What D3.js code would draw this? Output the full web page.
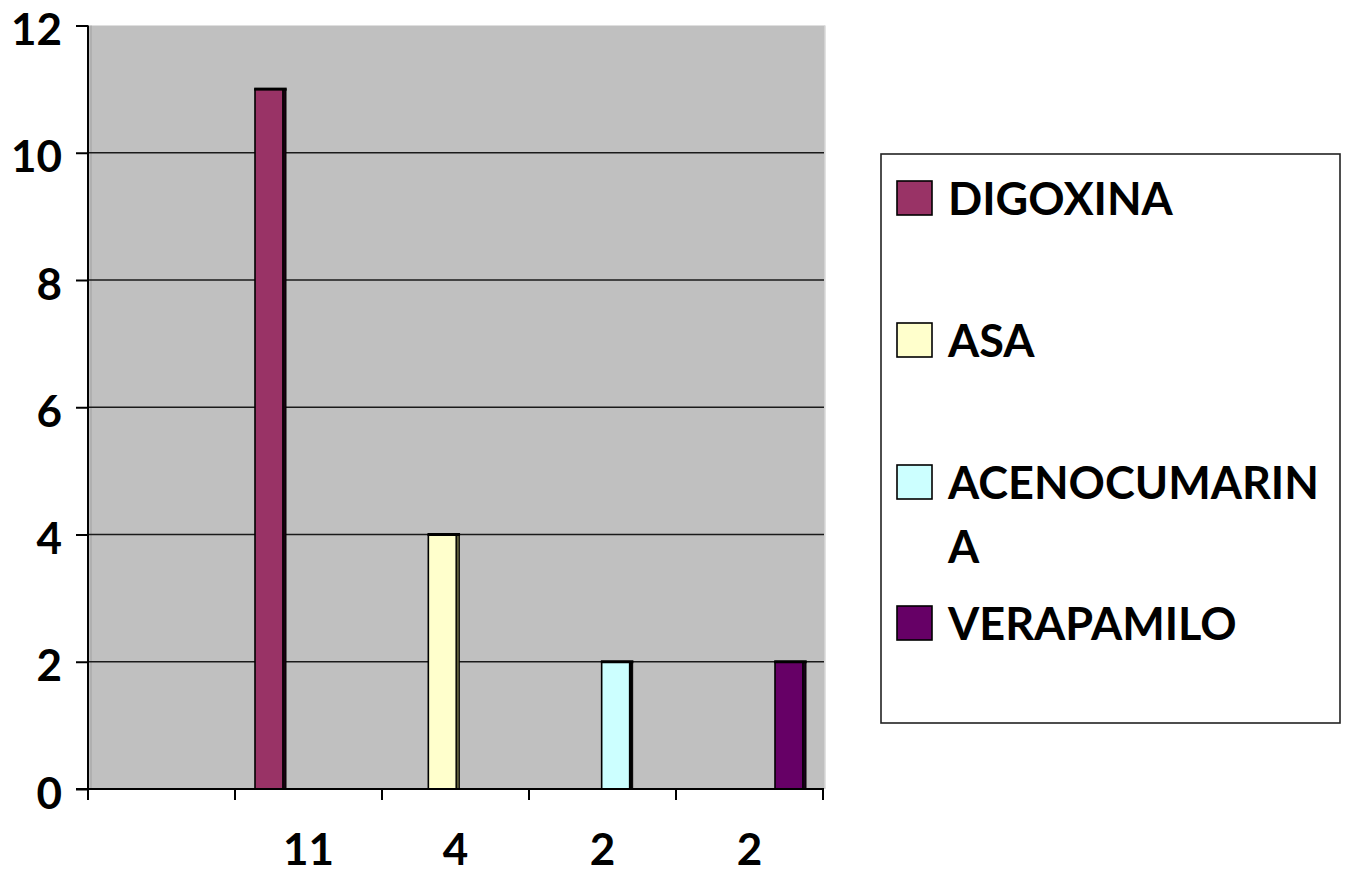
<!DOCTYPE html>
<html>
<head>
<meta charset="utf-8">
<script src="https://cdn.jsdelivr.net/npm/d3@7"></script>
<style>
  html, body { margin: 0; padding: 0; background: #fff; }
  svg { display: block; font-family: Lato, "Open Sans", sans-serif; font-weight: 700; }
</style>
</head>
<body>
<svg id="chart" width="1347" height="875"></svg>
<script>
// Number of patients per drug
const seriesNames = ["DIGOXINA", "ASA", "ACENOCUMARINA", "VERAPAMILO"];
const seriesValues = [11, 4, 2, 2];
const seriesColors = ["#993366", "#FFFFCC", "#CCFFFF", "#660066"];
const seriesEdge = ["#1a0010", "#5c5c3a", "#000000", "#1a001a"];

// Category axis labels (first slot is empty)
const xTickLabels = ["", "11", "4", "2", "2"];
const yTicks = [0, 2, 4, 6, 8, 10, 12];

const svg = d3.select("#chart");
const plot = { left: 88, right: 824, top: 25.5, bottom: 789 };
const fontAxis = 44;
const fontLegend = 45;

const y = d3.scaleLinear().domain([0, 12]).range([plot.bottom, plot.top]);
const xCat = d3.scaleBand()
  .domain(d3.range(xTickLabels.length))
  .range([plot.left, plot.right - 1]);
const xBar = d3.scalePoint()
  .domain(seriesNames)
  .range([269, 789]);
const barWidth = 28;

// Plot background
svg.append("rect")
  .attr("x", plot.left).attr("y", plot.top)
  .attr("width", plot.right - plot.left + 1)
  .attr("height", plot.bottom - plot.top)
  .attr("fill", "#C0C0C0");
svg.append("line")
  .attr("x1", plot.right + 1).attr("x2", plot.right + 1)
  .attr("y1", plot.top).attr("y2", plot.bottom)
  .attr("stroke", "#d8d8d8").attr("stroke-width", 1.5);
svg.append("line")
  .attr("x1", plot.left + 3).attr("x2", plot.left + 3)
  .attr("y1", plot.top).attr("y2", plot.bottom)
  .attr("stroke", "#a0a0a0").attr("stroke-width", 1);

// Horizontal gridlines
svg.append("g")
  .selectAll("line")
  .data(yTicks.filter(d => d > 0 && d < 12))
  .join("line")
  .attr("x1", plot.left).attr("x2", plot.right)
  .attr("y1", d => y(d)).attr("y2", d => y(d))
  .attr("stroke", "#1a1a1a").attr("stroke-width", 1.5);

// Bars
const bars = svg.append("g");
seriesNames.forEach((name, i) => {
  const cx = xBar(name);
  const top = y(seriesValues[i]);
  bars.append("rect")
    .attr("x", cx - barWidth / 2).attr("y", top)
    .attr("width", barWidth).attr("height", y(0) - top)
    .attr("fill", seriesColors[i])
    .attr("stroke", "#000").attr("stroke-width", 1.6);
  // dark right edge
  bars.append("rect")
    .attr("x", cx + barWidth / 2).attr("y", top)
    .attr("width", 3).attr("height", y(0) - top)
    .attr("fill", seriesEdge[i])
    .attr("stroke", "#000").attr("stroke-width", 1);
  // thick top edge
  bars.append("rect")
    .attr("x", cx - barWidth / 2 - 0.8).attr("y", top - 1.5)
    .attr("width", barWidth + 4.5).attr("height", 3)
    .attr("fill", "#000");
});

// Y axis
const yAxis = svg.append("g")
  .attr("transform", `translate(${plot.left},0)`)
  .call(d3.axisLeft(y).tickValues(yTicks).tickSize(12).tickPadding(14).tickFormat(d3.format("d")));
yAxis.select(".domain").attr("stroke", "#000").attr("stroke-width", 2).attr("d", `M0,${plot.top}V${plot.bottom}`);
yAxis.selectAll(".tick line").attr("stroke", "#000").attr("stroke-width", 2);
yAxis.selectAll(".tick text")
  .attr("font-size", fontAxis).attr("font-family", "Lato, 'Open Sans', sans-serif").attr("font-weight", 700)
  .attr("fill", "#000").attr("dy", 19).attr("x", -26);

// X axis
const xAxis = svg.append("g")
  .attr("transform", `translate(0,${plot.bottom})`);
xAxis.append("line")
  .attr("x1", plot.left - 12).attr("x2", plot.right)
  .attr("stroke", "#000").attr("stroke-width", 2.2);
const tickPos = d3.range(xTickLabels.length + 1).map(i =>
  i < xTickLabels.length ? xCat(i) : xCat(i - 1) + xCat.bandwidth());
xAxis.selectAll("line.tick")
  .data(tickPos)
  .join("line").attr("class", "tick")
  .attr("x1", d => d).attr("x2", d => d)
  .attr("y1", 0).attr("y2", 11)
  .attr("stroke", "#000").attr("stroke-width", 2);
xAxis.selectAll("text")
  .data(xTickLabels)
  .join("text")
  .attr("x", (d, i) => xCat(i) + xCat.bandwidth() / 2)
  .attr("y", 76)
  .attr("text-anchor", "middle")
  .attr("font-size", fontAxis)
  .attr("fill", "#000")
  .text(d => d);

// Legend
const legend = { x: 881, y: 154, w: 459, h: 569 };
svg.append("rect")
  .attr("x", legend.x).attr("y", legend.y)
  .attr("width", legend.w).attr("height", legend.h)
  .attr("fill", "#fff").attr("stroke", "#222").attr("stroke-width", 1.6);

const legendBaselines = [215, 357, 499, 640];
const textX = 948;
const maxTextWidth = legend.x + legend.w - textX - 8;
const lineHeight = 64;

seriesNames.forEach((name, i) => {
  const base = legendBaselines[i];
  svg.append("rect")
    .attr("x", 897).attr("y", base - 34)
    .attr("width", 35).attr("height", 34)
    .attr("fill", seriesColors[i])
    .attr("stroke", "#000").attr("stroke-width", 1.6);
  const t = svg.append("text")
    .attr("x", textX).attr("y", base)
    .attr("font-size", fontLegend).attr("fill", "#000");
  // break long names character by character when they overflow the box
  let line = "";
  const lines = [];
  const probe = t.append("tspan");
  for (const ch of name) {
    probe.text(line + ch);
    if (probe.node().getComputedTextLength() > maxTextWidth && line.length) {
      lines.push(line);
      line = ch;
    } else {
      line += ch;
    }
  }
  lines.push(line);
  probe.remove();
  lines.forEach((l, k) => {
    t.append("tspan").attr("x", textX).attr("dy", k === 0 ? 0 : lineHeight).text(l);
  });
});
</script>
</body>
</html>
